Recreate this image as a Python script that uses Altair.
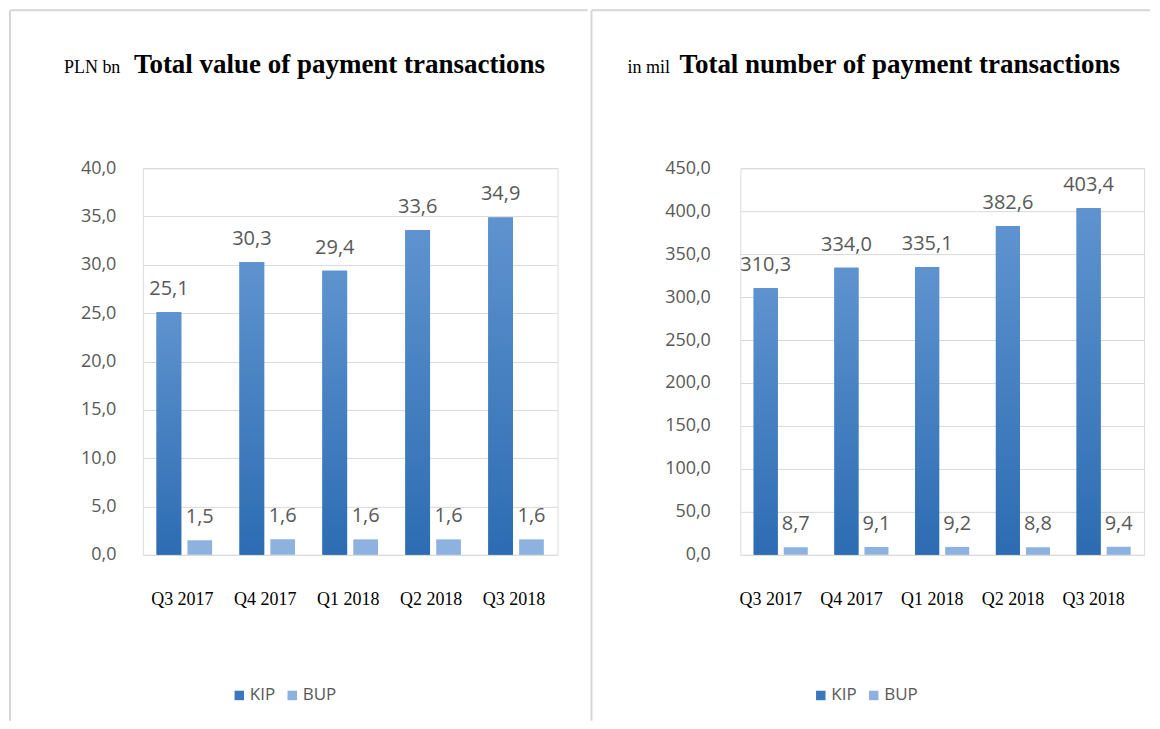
import altair as alt
import pandas as pd

quarters = ["Q3 2017", "Q4 2017", "Q1 2018", "Q2 2018", "Q3 2018"]
series = ["KIP", "BUP"]
value_kip = [25.1, 30.3, 29.4, 33.6, 34.9]
value_bup = [1.5, 1.6, 1.6, 1.6, 1.6]
count_kip = [310.3, 334.0, 335.1, 382.6, 403.4]
count_bup = [8.7, 9.1, 9.2, 8.8, 9.4]
value_ticks = [0, 5, 10, 15, 20, 25, 30, 35, 40]
count_ticks = [0, 50, 100, 150, 200, 250, 300, 350, 400, 450]

KIP_COLOR = "#3A78BD"
BUP_COLOR = "#8DB2DF"
GRAY = "#595959"
BORDER = "#d6d6d6"

W1, W2, H = 415, 404, 387


def long_df(kip, bup):
    rows = []
    for q, k, b in zip(quarters, kip, bup):
        rows.append({"quarter": q, "series": "KIP", "v": k})
        rows.append({"quarter": q, "series": "BUP", "v": b})
    return pd.DataFrame(rows)


def panel(df, ticks, width, unit, title, unit_x, title_x, legend_x, ylab_pad, xlab_off, borders):
    base = alt.Chart(df).transform_calculate(
        label="replace(format(datum.v, '.1f'), '.', ',')"
    )
    x = alt.X(
        "quarter:N", sort=quarters, title=None,
        scale=alt.Scale(paddingInner=0.33, paddingOuter=0.165),
        axis=alt.Axis(labelAngle=0, labelFont="Liberation Serif", labelFontSize=18,
                      labelColor="black", domain=False, ticks=False, labelPadding=36,
                      labelOffset=xlab_off),
    )
    xo = alt.XOffset("series:N", sort=series,
                     scale=alt.Scale(domain=series, paddingInner=0.2, paddingOuter=0))
    y = alt.Y(
        "v:Q", title=None,
        scale=alt.Scale(domain=[ticks[0], ticks[-1]], nice=False),
        axis=alt.Axis(values=ticks, labelExpr="replace(format(datum.value, '.1f'), '.', ',')",
                      labelFont="Open Sans", labelFontSize=18, labelColor=GRAY,
                      gridColor="#d9d9d9", domain=False, ticks=False, labelPadding=ylab_pad),
    )
    bars = base.mark_bar().encode(
        x=x, xOffset=xo, y=y,
        color=alt.Color(
            "series:N", sort=series,
            scale=alt.Scale(domain=series, range=[KIP_COLOR, BUP_COLOR]),
            legend=alt.Legend(
                title=None, orient="none", direction="horizontal",
                legendX=legend_x, legendY=519, symbolType="square", symbolSize=90,
                symbolStrokeWidth=0, labelFont="Open Sans", labelFontSize=17,
                labelColor=GRAY, columnPadding=8, labelOffset=2,
            ),
        ),
    )
    kip_grad = base.transform_filter("datum.series == 'KIP'").mark_bar(
        color=alt.Gradient(
            gradient="linear", x1=0, x2=0, y1=0, y2=1,
            stops=[alt.GradientStop(color="#5E93CF", offset=0),
                   alt.GradientStop(color="#2D6CB2", offset=1)],
        )
    ).encode(x=x, xOffset=xo, y=y)
    labels = base.mark_text(
        font="Open Sans", fontSize=20, color=GRAY, baseline="alphabetic", dy=-17
    ).encode(x=x, xOffset=xo, y=y, text="label:N")

    one = alt.Data(values=[{"a": 1}])
    unit_t = alt.Chart(one).mark_text(
        font="Liberation Serif", fontSize=18, align="left", baseline="alphabetic", color="black"
    ).encode(x=alt.value(unit_x), y=alt.value(-95), text=alt.value(unit))
    title_t = alt.Chart(one).mark_text(
        font="Liberation Serif", fontSize=27, fontWeight="bold", align="left",
        baseline="alphabetic", color="black"
    ).encode(x=alt.value(title_x), y=alt.value(-95), text=alt.value(title))

    layers = [bars, kip_grad, labels, unit_t, title_t]
    for (x1, x2, y1, y2) in borders:
        layers.append(
            alt.Chart(one).mark_rule(color=BORDER, strokeWidth=2).encode(
                x=alt.value(x1), x2=alt.value(x2), y=alt.value(y1), y2=alt.value(y2)
            )
        )
    return alt.layer(*layers).properties(width=width, height=H)


left = panel(
    long_df(value_kip, value_bup), value_ticks, W1,
    "PLN bn", "Total value of payment transactions", -79, -9, 88, 27, -2,
    borders=[(-133, -133, -158, 553), (-133, 445, -158, -158)],
)
right = panel(
    long_df(count_kip, count_bup), count_ticks, W2,
    "in mil", "Total number of payment transactions", -113, -61, 72, 30, -10,
    borders=[(-149, -149, -158, 553), (-149, 410, -158, -158)],
)

chart = alt.hconcat(left, right, spacing=0).resolve_scale(
    color="independent", x="independent", y="independent", xOffset="independent"
).properties(
    padding={"left": 0, "top": 0, "right": 0, "bottom": 0}
).configure_view(stroke=None).configure(background="white")

chart.save("out.html", embed_options={"renderer": "svg", "actions": False})
